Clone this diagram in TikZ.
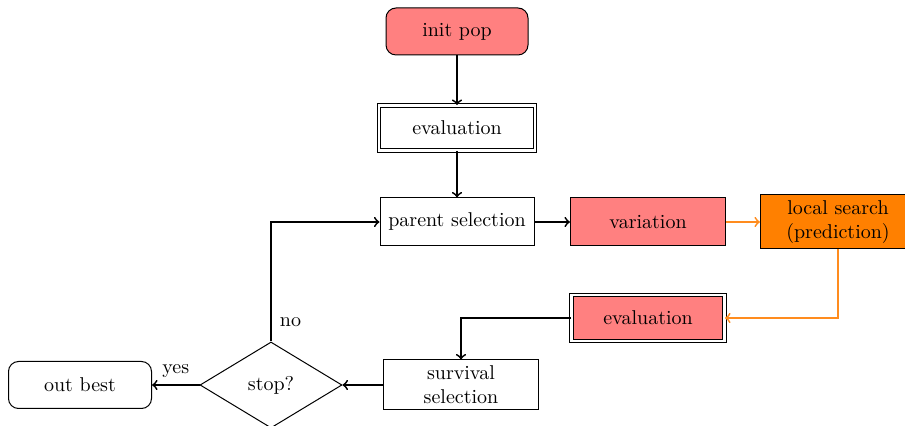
\documentclass[tikz,border=0pt]{standalone}
\usetikzlibrary{shapes.geometric}
\definecolor{boxred}{RGB}{255,128,128}
\definecolor{boxorange}{RGB}{255,128,0}
\definecolor{lineorange}{RGB}{255,140,30}
\begin{document}
\begin{tikzpicture}[x=0.5pt,y=-0.5pt,
  box/.style={draw, rectangle, line width=0.5pt, minimum height=24pt, minimum width=77pt, align=center, font=\normalsize},
  roundbox/.style={box, rounded corners=5pt},
  dbox/.style={box, double, double distance=1.2pt},
  decision/.style={draw, diamond, line width=0.5pt, minimum width=71pt, minimum height=43pt, inner sep=0pt},
  flow/.style={->, line width=0.9pt, black},
  oflow/.style={->, line width=0.9pt, lineorange},
  lbl/.style={inner sep=1pt}]
\useasboundingbox (0,0) rectangle (905,426);

\node[roundbox, fill=boxred, minimum width=71pt, minimum height=23.5pt] (init) at (457,31.5) {init pop};
\node[dbox, minimum width=78pt, minimum height=22.5pt] (eval1) at (457,128) {evaluation};
\node[box] (parent) at (457,222) {parent selection};
\node[box, fill=boxred, minimum width=77.5pt] (var) at (648,222) {variation};
\node[box, fill=boxorange, minimum width=77.5pt, minimum height=27pt, inner sep=2pt] (ls) at (838,222) {local search\\(prediction)};
\node[dbox, fill=boxred, minimum width=76.5pt, minimum height=23pt] (eval2) at (648,318) {evaluation};
\node[box, minimum width=77.5pt, minimum height=25pt, inner sep=1pt] (surv) at (461,385) {survival\\selection};
\node[decision] (stop) at (271,385) {stop?};
\node[roundbox, minimum width=71.5pt, minimum height=23.5pt] (out) at (80,385) {out best};

\draw[flow] (init) -- (eval1);
\draw[flow] (eval1) -- (parent);
\draw[flow] (parent) -- (var);
\draw[oflow] (var) -- (ls);
\draw[oflow] (ls.south) |- (eval2.east);
\draw[flow] (eval2.west) -| (surv.north);
\draw[flow] (surv) -- (stop);
\draw[flow] (stop.west) -- node[lbl, above=2pt] {yes} (out.east);
\draw[flow] (stop.north) |- node[lbl, pos=0.08, right=3pt] {no} (parent.west);
\end{tikzpicture}
\end{document}
